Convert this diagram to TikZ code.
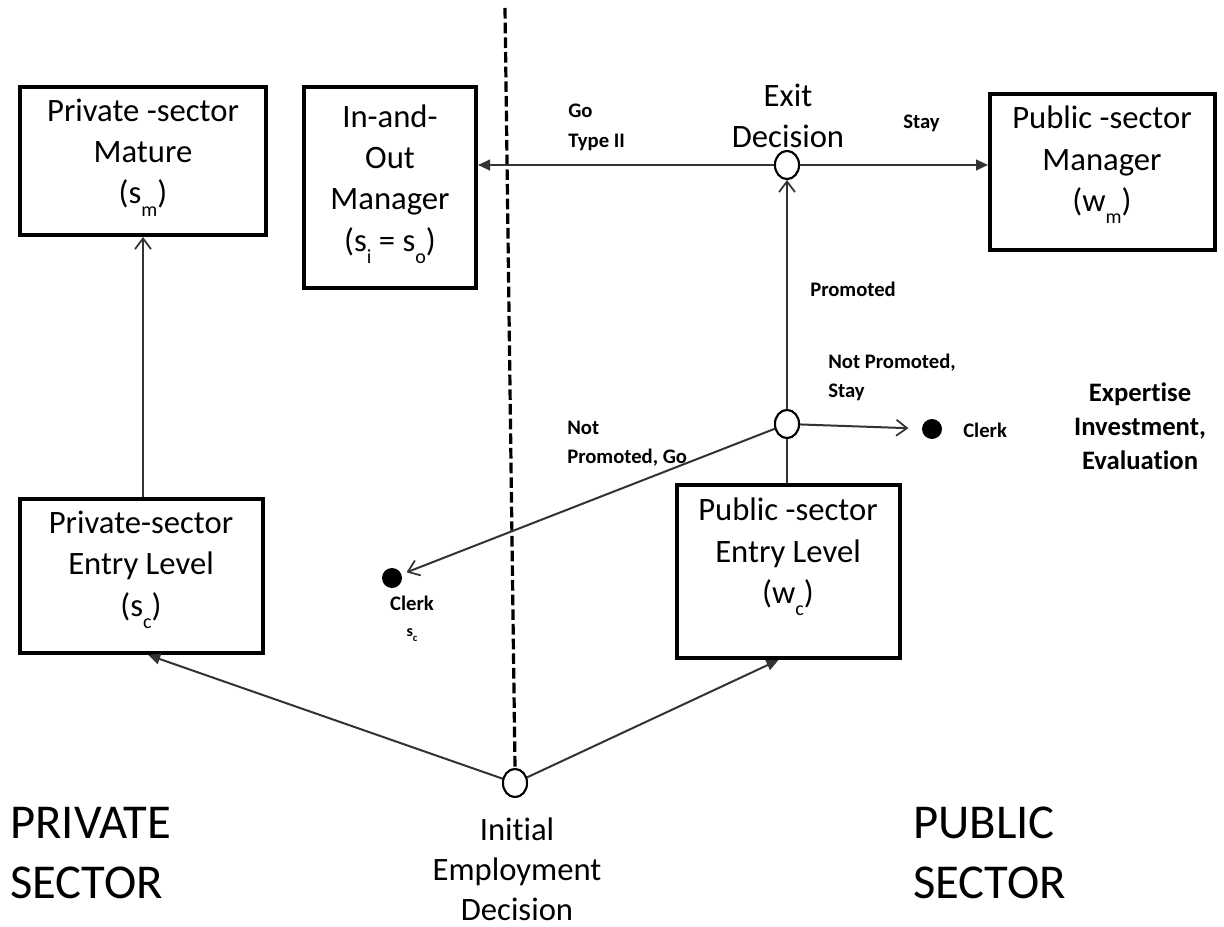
\documentclass[tikz,border=0pt]{standalone}
\usepackage{fontspec}
\setmainfont[Ligatures={NoCommon,NoContextual}]{Carlito}
\usetikzlibrary{arrows.meta,shapes.geometric}
\newcommand\lsub[1]{\raisebox{-0.8ex}{\fontsize{15}{15}\selectfont #1}}
\newcommand\tsub[1]{\raisebox{-0.6ex}{\fontsize{8}{8}\selectfont #1}}
\begin{document}
\begin{tikzpicture}[x=0.75pt,y=-0.75pt,
  boxframe/.style={draw=black, line width=3pt, inner sep=0pt},
  txtbig/.style={font=\fontsize{24.5}{31}\selectfont, align=center, inner sep=0pt},
  txtsmall/.style={font=\bfseries\fontsize{15.5}{22}\selectfont, align=left, inner sep=0pt},
  txtmid/.style={font=\bfseries\fontsize{20}{25.5}\selectfont, align=center, inner sep=0pt},
  txthuge/.style={font=\fontsize{36.5}{45}\selectfont, inner sep=0pt, anchor=base west},
  decision/.style={ellipse, draw=black, line width=1.5pt, fill=white, minimum width=18pt, minimum height=21pt, inner sep=0pt},
  dot/.style={circle, fill=black, minimum size=15pt, inner sep=0pt},
  conn/.style={draw=black!80, line width=1.5pt},
  openarrow/.style={-{Straight Barb[length=8pt,width=12pt,line width=1.3pt]}},
  filledarrow/.style={-{Triangle[length=9pt,width=8pt]}},
  divider/.style={draw=black, line width=2.4pt, dash pattern=on 8pt off 3pt}
]
\fill[white] (0,0) rectangle (1224,927);
\useasboundingbox (0,0) rectangle (1224,927);

% boxes
\node[boxframe, minimum width=184.5pt, minimum height=111pt] (pm) at (143,161) {};
\node[boxframe, minimum width=129pt, minimum height=150.75pt] (io) at (390,187.5) {};
\node[boxframe, minimum width=168.75pt, minimum height=117pt] (pum) at (1102.5,172) {};
\node[boxframe, minimum width=182.25pt, minimum height=115.5pt] (pe) at (141.5,576) {};
\node[boxframe, minimum width=167.25pt, minimum height=129.75pt] (pue) at (788.5,571.5) {};

\node[txtbig] (pmt) at (143,157.5) {Private -sector\\Mature\\(s\lsub{m})};
\node[txtbig] (iot) at (390,184) {In-and-\\Out\\Manager\\(s\lsub{i} = s\lsub{o})};
\node[txtbig] (pumt) at (1102,165) {Public -sector\\Manager\\(w\lsub{m})};
\node[txtbig] (pet) at (141,570) {Private-sector\\Entry Level\\(s\lsub{c})};
\node[txtbig] (puet) at (788,557) {Public -sector\\Entry Level\\(w\lsub{c})};

% divider
\coordinate (dtop) at (505,8);
\node[decision] (ie) at (515,783) {};
\draw[divider] (dtop) -- (ie.north);

% decision nodes and dots
\node[decision] (ec) at (787,165) {};
\node[decision] (nc) at (787,424) {};
\node[dot] (cr) at (932,429) {};
\node[dot] (cl) at (392,578) {};

% connectors
\draw[conn, openarrow] (pe.north -| pm.south) -- (pm.south);
\draw[conn, filledarrow] (ie) -- ([xshift=5pt]pe.south);
\draw[conn, filledarrow] (ie) -- ([xshift=-7.5pt]pue.south);
\draw[conn] (pue.north -| nc) -- (nc);
\draw[conn, openarrow] (nc) -- (ec);
\draw[conn, openarrow, shorten >=10pt] (nc) -- (cr);
\draw[conn, openarrow, shorten >=4pt] (nc) -- (cl);
\draw[conn, filledarrow] (ec) -- (io.east |- ec);
\draw[conn, filledarrow] (ec) -- (pum.west |- ec);
\node[decision] at (ec) {};
\node[decision] at (nc) {};
\node[decision] at (ie) {};

% labels
\node[txtbig] (lexit) at (788,116) {Exit\\Decision};
\node[txtsmall, anchor=west] (lgo) at (568,127.5) {Go\\Type II};
\node[txtsmall, anchor=west] (lstay) at (903,123) {Stay};
\node[txtsmall, anchor=west] (lprom) at (810,289) {Promoted};
\node[txtsmall, anchor=west] (lnps) at (828,377.5) {Not Promoted,\\Stay};
\node[txtsmall, anchor=west] (lnpg) at (567,443.5) {Not\\Promoted, Go};
\node[txtsmall, anchor=west] (lclr) at (963,430) {Clerk};
\node[txtsmall] (lcll) at (412,603) {Clerk};
\node[font=\bfseries\fontsize{12}{12}\selectfont, inner sep=0pt] (lsc) at (412,635) {s\tsub{c}};
\node[txtmid] (lexp) at (1140,426) {Expertise\\Investment,\\Evaluation};
\node[txtbig, font=\fontsize{24.5}{30}\selectfont] (linit) at (517,869) {Initial\\Employment\\Decision};

\node[txthuge] (priv1) at (10,838) {PRIVATE};
\node[txthuge] (priv2) at (10,898) {SECTOR};
\node[txthuge] (pub1) at (913,838) {PUBLIC};
\node[txthuge] (pub2) at (913,898) {SECTOR};
\end{tikzpicture}
\end{document}
